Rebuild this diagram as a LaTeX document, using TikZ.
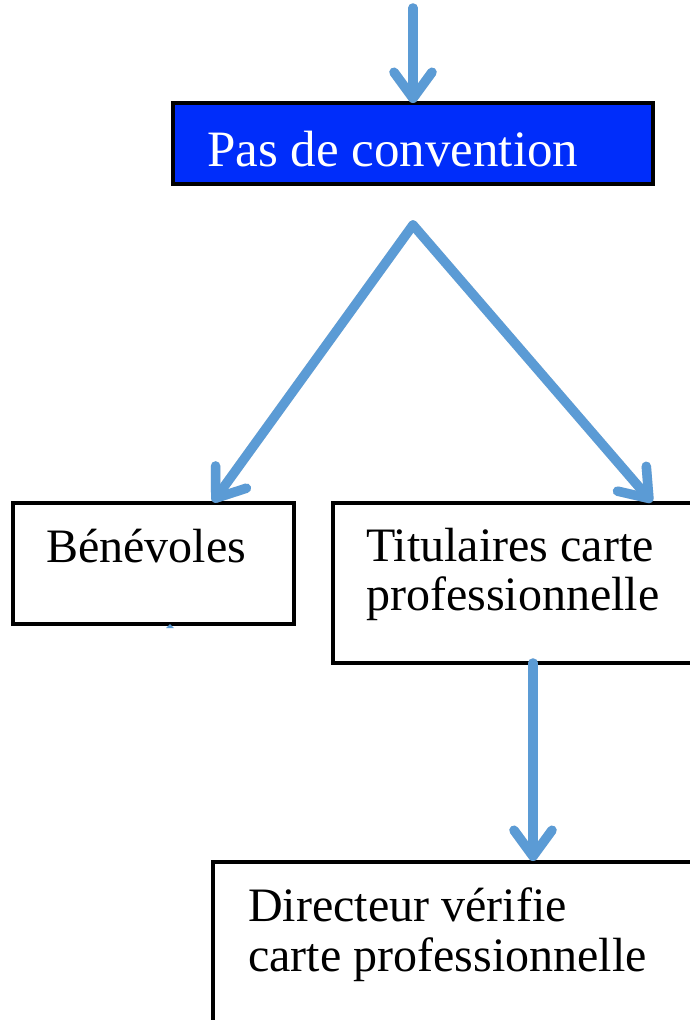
\documentclass[tikz,border=0pt]{standalone}
\usepackage{fontspec}
\setmainfont{Liberation Serif}
\usetikzlibrary{arrows.meta}
\definecolor{arrowblue}{RGB}{91,155,213}
\definecolor{boxblue}{RGB}{0,45,250}
\begin{document}
\begin{tikzpicture}[x=1pt,y=-1pt,
 flow/.style={draw=arrowblue, line width=9.5pt, line cap=round, line join=round,
   -{Straight Barb[length=26pt,width=38pt,line cap=round,line join=round]}},
 shade/.style={flow, draw=black!25, opacity=0.45, shift={(1.5,-2)}},
 box/.style={draw=black, line width=3.2pt, fill=white, anchor=north west, inner sep=0pt, outer sep=0pt},
 lbl/.style={anchor=base west, inner sep=0pt, font=\fontsize{48}{50}\selectfont},
]
\useasboundingbox (0,0) rectangle (690,1020);
\clip (0,0) rectangle (690,1020);
\fill[white] (0,0) rectangle (690,1020);

% boxes
\node[box, fill=boxblue, minimum width=480pt, minimum height=81pt] (pas) at (173,103) {};
\node[box, minimum width=281pt, minimum height=121pt] (ben) at (13,503) {};
\node[box, minimum width=365pt, minimum height=160pt] (tit) at (333,503) {};
\node[box, minimum width=500pt, minimum height=200pt] (dir) at (213,862) {};

% texts
\node[lbl, text=white, font=\fontsize{51}{53}\selectfont] (pasT) at (207,166) {Pas de convention};
\node[lbl] (benT) at (46,562) {Bénévoles};
\node[lbl] (titA) at (366,561) {Titulaires carte};
\node[lbl] (titB) at (366,610) {professionnelle};
\node[lbl] (dirA) at (248,921) {Directeur vérifie};
\node[lbl] (dirB) at (248,971) {carte professionnelle};

% connector points
\coordinate (top) at (413,8);
\coordinate (apex) at (413,225);
\coordinate (benIn) at (213,502);
\coordinate (titIn) at (652,502);
\coordinate (titOut) at (533,663);
\coordinate (dirIn) at (533,861);

\draw[shade] (top) -- (pas.north);
\draw[shade] (apex) -- (benIn);
\draw[shade] (apex) -- (titIn);
\draw[shade] (titOut) -- (dirIn);
\draw[flow] (top) -- (pas.north);
\draw[flow] (apex) -- (benIn);
\draw[flow] (apex) -- (titIn);
\draw[flow] (titOut) -- (dirIn);

\fill[arrowblue] (166,628) -- (170,624) -- (174,628) -- cycle;
\end{tikzpicture}
\end{document}
